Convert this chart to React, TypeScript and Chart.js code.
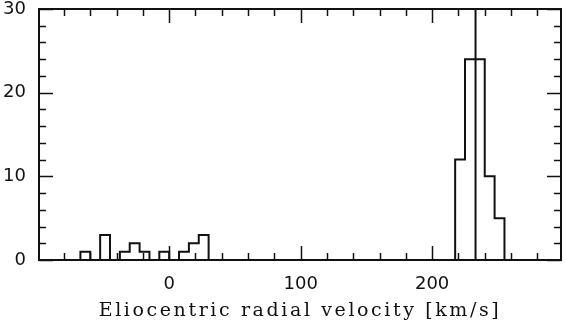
import React, { useEffect, useRef } from "react";
import { Chart, registerables } from "chart.js";

Chart.register(...registerables);

// Histogram data (bin width 7.5 km/s)
const binWidth = 7.5;
const groupAStart = -67.5;
const groupACounts = [1, 0, 3, 0, 1, 2, 1, 0, 1, 0, 1, 2, 3];
const groupBStart = 217.5;
const groupBCounts = [12, 24, 24, 10, 5];
const markerVelocity = 233;

const xTickLabels = [0, 100, 200];
const yTickLabels = [0, 10, 20, 30];
const xTitle = "Eliocentric radial velocity [km/s]";

const X_MIN = -99;
const X_MAX = 298;
const Y_MIN = 0;
const Y_MAX = 30;

const INK = "#111111";
const TITLE_SPACING = "2.6px";

function stepPoints(start: number, counts: number[]) {
  const pts: { x: number; y: number }[] = [{ x: start, y: 0 }];
  counts.forEach((c, i) => pts.push({ x: start + i * binWidth, y: c }));
  pts.push({ x: start + counts.length * binWidth, y: 0 });
  return pts;
}

const frameTicksPlugin = {
  id: "frameTicks",
  beforeDraw(chart: any) {
    (chart.ctx as any).letterSpacing = TITLE_SPACING;
  },
  beforeDatasetsDraw(chart: any) {
    (chart.ctx as any).letterSpacing = "0px";
  },
  afterDraw(chart: any) {
    const { ctx, chartArea } = chart;
    const xs = chart.scales.x;
    const ys = chart.scales.y;
    const { left, right, top, bottom } = chartArea;
    ctx.save();
    ctx.strokeStyle = INK;
    ctx.lineWidth = 1.5;
    const minor = 7;
    const major = 14;
    for (let v = Math.ceil(X_MIN / 20) * 20; v <= X_MAX; v += 20) {
      const px = Math.round(xs.getPixelForValue(v)) + 0.5;
      const len = v % 100 === 0 ? major : minor;
      ctx.beginPath();
      ctx.moveTo(px, bottom);
      ctx.lineTo(px, bottom - len);
      ctx.moveTo(px, top);
      ctx.lineTo(px, top + len);
      ctx.stroke();
    }
    for (let v = Y_MIN; v <= Y_MAX; v += 2) {
      const py = Math.round(ys.getPixelForValue(v)) + 0.5;
      const len = v % 10 === 0 ? major : minor;
      ctx.beginPath();
      ctx.moveTo(left, py);
      ctx.lineTo(left + len, py);
      ctx.moveTo(right, py);
      ctx.lineTo(right - len, py);
      ctx.stroke();
    }
    ctx.lineWidth = 2;
    ctx.strokeRect(left, top, right - left, bottom - top);
    ctx.restore();
  },
};

export default function App() {
  const canvasRef = useRef<HTMLCanvasElement | null>(null);

  useEffect(() => {
    if (!canvasRef.current) return;
    const chart = new Chart(canvasRef.current, {
      type: "line",
      data: {
        datasets: [
          {
            data: stepPoints(groupAStart, groupACounts),
            stepped: true,
            borderColor: INK,
            borderWidth: 2,
            pointRadius: 0,
            fill: false,
          },
          {
            data: stepPoints(groupBStart, groupBCounts),
            stepped: true,
            borderColor: INK,
            borderWidth: 2,
            pointRadius: 0,
            fill: false,
          },
          {
            data: [
              { x: markerVelocity, y: Y_MIN },
              { x: markerVelocity, y: Y_MAX },
            ],
            borderColor: INK,
            borderWidth: 2,
            pointRadius: 0,
            fill: false,
          },
        ],
      },
      options: {
        animation: false,
        responsive: true,
        maintainAspectRatio: false,
        layout: { padding: { top: 9, right: 4, left: 0, bottom: 0 } },
        plugins: {
          legend: { display: false },
          tooltip: { enabled: false },
        },
        scales: {
          x: {
            type: "linear",
            min: X_MIN,
            max: X_MAX,
            grid: { display: false, drawTicks: false },
            border: { display: false },
            afterBuildTicks: (s: any) => {
              s.ticks = xTickLabels.map((v) => ({ value: v }));
            },
            afterFit: (s: any) => {
              s.height = 63;
              s.paddingLeft = 0;
              s.paddingRight = 0;
            },
            ticks: {
              z: 1,
              padding: 14,
              maxRotation: 0,
              autoSkip: false,
              color: INK,
              font: { family: "DejaVu Sans", size: 18 },
              callback: (v: any) => String(v),
            },
            title: {
              display: true,
              text: xTitle,
              color: INK,
              font: { family: "DejaVu Serif", size: 19 },
              padding: { top: 0, bottom: 1 },
            },
          },
          y: {
            type: "linear",
            min: Y_MIN,
            max: Y_MAX,
            grid: { display: false, drawTicks: false },
            border: { display: false },
            afterBuildTicks: (s: any) => {
              s.ticks = yTickLabels.map((v) => ({ value: v }));
            },
            afterFit: (s: any) => {
              s.width = 39;
              s.paddingTop = 0;
              s.paddingBottom = 0;
            },
            ticks: {
              z: 1,
              padding: 13,
              color: INK,
              font: { family: "DejaVu Sans", size: 18 },
              callback: (v: any) => String(v),
            },
          },
        },
      },
      plugins: [frameTicksPlugin],
    });
    return () => chart.destroy();
  }, []);

  return (
    <div style={{ position: "absolute", left: 0, top: 0, width: 565, height: 323, background: "#fff" }}>
      <canvas ref={canvasRef} />
    </div>
  );
}
